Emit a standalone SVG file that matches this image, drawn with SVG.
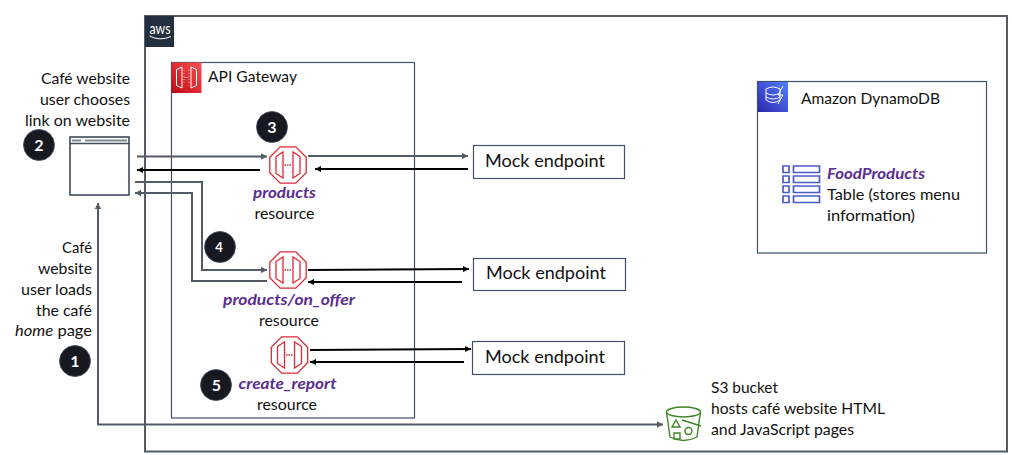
<svg xmlns="http://www.w3.org/2000/svg" width="1012" height="455" viewBox="0 0 1012 455">
<style>
text{font-family:Lato,"Open Sans",sans-serif;font-size:15px;fill:#111}
.e{text-anchor:end}.m{text-anchor:middle}
.p{font-style:italic;font-weight:700;fill:#5a2d91}
.big{font-size:18px}
.box{fill:#fff;stroke:#3f4f66;stroke-width:1.2}
.g{fill:none;stroke:#545b64;stroke-width:2}
.k{fill:none;stroke:#000;stroke-width:2}
.n{fill:#16191f;stroke:#3f4f66;stroke-width:.8}
.nt{fill:#fff;font-weight:700;font-size:16px;text-anchor:middle}
.o{fill:none;stroke:#dd2a35;stroke-width:1.3}
.w{fill:none;stroke:#fff;stroke-width:1}
.t{fill:none;stroke:#4b5bc8;stroke-width:1.7}
.s{fill:none;stroke:#3f8624;stroke-width:1.4}
</style>
<defs>
<linearGradient id="red" x1="0" y1="1" x2="1" y2="0"><stop offset="0" stop-color="#bd0816"/><stop offset="1" stop-color="#ff5252"/></linearGradient>
<linearGradient id="blue" x1="0" y1="1" x2="1" y2="0"><stop offset="0" stop-color="#2e27ad"/><stop offset="1" stop-color="#527fff"/></linearGradient>
<marker id="ag" markerUnits="userSpaceOnUse" markerWidth="8" markerHeight="8" refX="6" refY="4" orient="auto-start-reverse"><path d="M0 .8L6 4L0 7.2z" fill="#545b64"/></marker>
<marker id="ak" markerUnits="userSpaceOnUse" markerWidth="8" markerHeight="8" refX="6" refY="4" orient="auto"><path d="M0 1L6 4L0 7z" fill="#000"/></marker>
<g id="gw"><path class="o" d="M-7.800-18.200H7.800L18.200-7.800V7.800L7.800 18.200H-7.800L-18.200 7.800V-7.800Z"/><path class="o" d="M-12-8.500L-5-13V13L-12 8.500ZM12-8.500L5-13V13L12 8.500Z"/><path class="o" stroke-dasharray="1.500 1" d="M-3.500 0H3.500"/></g>
</defs>
<g id="aws-cloud"><rect x="145" y="16" width="862" height="435.500" fill="#fff" stroke="#545b64" stroke-width="2"/><rect x="145" y="16" width="29" height="31" fill="#232f3e"/><text x="160" y="33.500" class="m" style="fill:#fff;font-size:16px" textLength="21" lengthAdjust="spacingAndGlyphs">aws</text><path d="M149.500 36Q160 41.500 171 36.500" fill="none" stroke="#fff" stroke-width="1"/></g>
<g id="api-gateway"><rect class="box" x="171.500" y="62.500" width="243" height="355.500"/><rect x="171.500" y="62.500" width="30" height="30.500" fill="url(#red)"/><path class="w" d="M176.500 69.500L182 67V88L176.500 85.500ZM196.500 69.500L191 67V88L196.500 85.500Z"/><path d="M184.500 77.500H188.500" stroke="#fff" stroke-dasharray="1 1"/><path d="M184 70V85M189 70V85" stroke="#fff" stroke-width=".6" stroke-dasharray="1 2"/><text x="208" y="82" textLength="89" lengthAdjust="spacingAndGlyphs">API Gateway</text></g>
<g id="dynamodb"><rect class="box" x="757.500" y="81.500" width="229" height="171.500"/><rect x="758" y="82" width="30" height="30" fill="url(#blue)"/><path class="w" d="M766 89Q773 85 780 89V100Q773 105 766 100ZM766 93Q773 97 780 93M766 97Q773 101 780 97M783 86L778 95H783L778 104"/><text x="801" y="104" textLength="139" lengthAdjust="spacingAndGlyphs">Amazon DynamoDB</text><text x="827" y="179" class="p" textLength="98" lengthAdjust="spacingAndGlyphs">FoodProducts</text><text x="827" y="200" textLength="133" lengthAdjust="spacingAndGlyphs">Table (stores menu</text><text x="827" y="221" textLength="88" lengthAdjust="spacingAndGlyphs">information)</text><path class="t" d="M783 166h6v6.500h-6zM783 176h6v6.500h-6zM783 186h6v6.500h-6zM783 196h6v6.500h-6zM793.500 166h26v6.500h-26zM793.500 176h26v6.500h-26zM793.500 186h26v6.500h-26zM793.500 196h26v6.500h-26z"/></g>
<g id="connectors">
<path class="g" d="M137 156.500H267" marker-end="url(#ag)"/>
<path class="k" d="M260 170H137" marker-end="url(#ak)"/>
<path class="g" d="M135 182H202V270H267" marker-end="url(#ag)"/>
<path class="g" d="M267 281H192V193H135" marker-end="url(#ag)"/>
<path class="g" d="M308 156H468" marker-end="url(#ag)"/>
<path class="k" d="M468 169H315" marker-end="url(#ak)"/>
<path class="k" d="M308 270L469 269" marker-end="url(#ak)"/>
<path class="k" d="M462 282H308" marker-end="url(#ak)"/>
<path class="k" d="M310 350L471 349" marker-end="url(#ak)"/>
<path class="k" d="M464 362H310" marker-end="url(#ak)"/>
<path class="g" d="M663 424.500H98V203" marker-start="url(#ag)" marker-end="url(#ag)"/>
</g>
<g id="browser"><rect x="70" y="137" width="59" height="58" fill="#fff" stroke="#3f4a5a" stroke-width="1.600"/><path d="M70 143.500H129" stroke="#3f4a5a" stroke-width="1.500"/><path d="M72 140.500H81M85 140.500H127" stroke="#7d8998" stroke-width="2"/></g>
<g id="browser-label"><text x="130" y="84" class="e" textLength="89" lengthAdjust="spacingAndGlyphs">Café website</text><text x="130" y="105" class="e" textLength="90" lengthAdjust="spacingAndGlyphs">user chooses</text><text x="130" y="126" class="e" textLength="105" lengthAdjust="spacingAndGlyphs">link on website</text></g>
<g id="load-label"><text x="92" y="253" class="e" textLength="30" lengthAdjust="spacingAndGlyphs">Café</text><text x="92" y="274" class="e" textLength="54" lengthAdjust="spacingAndGlyphs">website</text><text x="92" y="295" class="e" textLength="71" lengthAdjust="spacingAndGlyphs">user loads</text><text x="92" y="316" class="e" textLength="56" lengthAdjust="spacingAndGlyphs">the café</text><text x="92" y="336" class="e" textLength="77" lengthAdjust="spacingAndGlyphs"><tspan font-style="italic">home</tspan> page</text></g>
<g id="badge-1"><circle class="n" cx="75" cy="361" r="15.500"/><text class="nt" x="75" y="366.500">1</text></g>
<g id="badge-2"><circle class="n" cx="39" cy="145" r="15.500"/><text class="nt" x="39" y="150.500">2</text></g>
<g id="badge-3"><circle class="n" cx="272" cy="127" r="15.500"/><text class="nt" x="272" y="132.500">3</text></g>
<g id="badge-4"><circle class="n" cx="220" cy="247" r="15.500"/><text class="nt" x="219" y="252" style="font-size:13px">4</text></g>
<g id="badge-5"><circle class="n" cx="216" cy="385" r="15.500"/><text class="nt" x="216.500" y="390.500">5</text></g>
<g id="products"><use href="#gw" x="288" y="165"/><text x="284.500" y="198" class="p m" textLength="63" lengthAdjust="spacingAndGlyphs">products</text><text x="284.500" y="219" class="m" textLength="60" lengthAdjust="spacingAndGlyphs">resource</text></g>
<g id="products-on-offer"><use href="#gw" x="288" y="270"/><text x="289" y="305" class="p m" textLength="132" lengthAdjust="spacingAndGlyphs">products/on_offer</text><text x="289" y="326" class="m" textLength="60" lengthAdjust="spacingAndGlyphs">resource</text></g>
<g id="create-report"><use href="#gw" x="289.500" y="355"/><text x="287.500" y="389" class="p m" textLength="98" lengthAdjust="spacingAndGlyphs">create_report</text><text x="287" y="410" class="m" textLength="60" lengthAdjust="spacingAndGlyphs">resource</text></g>
<g id="mock-1"><rect class="box" x="473.500" y="145.500" width="151" height="33"/><text x="485" y="167" class="big" textLength="120" lengthAdjust="spacingAndGlyphs">Mock endpoint</text></g>
<g id="mock-2"><rect class="box" x="473.500" y="258.500" width="152" height="32"/><text x="486" y="279" class="big" textLength="120" lengthAdjust="spacingAndGlyphs">Mock endpoint</text></g>
<g id="mock-3"><rect class="box" x="472.500" y="341.500" width="152" height="33"/><text x="485" y="363" class="big" textLength="120" lengthAdjust="spacingAndGlyphs">Mock endpoint</text></g>
<g id="s3"><ellipse class="s" cx="683.500" cy="412" rx="17" ry="5"/><path class="s" d="M666.500 412L670 437Q683.500 444 697 437L700.500 412"/><path class="s" d="M672 427L676 420L680 427ZM674 433h6v6h-6zM682 420L701 426"/><circle class="s" cx="688.500" cy="431" r="3.500"/><text x="711" y="393" textLength="67" lengthAdjust="spacingAndGlyphs">S3 bucket</text><text x="711" y="414" textLength="174" lengthAdjust="spacingAndGlyphs">hosts café website HTML</text><text x="711" y="435" textLength="143" lengthAdjust="spacingAndGlyphs">and JavaScript pages</text></g>
</svg>
